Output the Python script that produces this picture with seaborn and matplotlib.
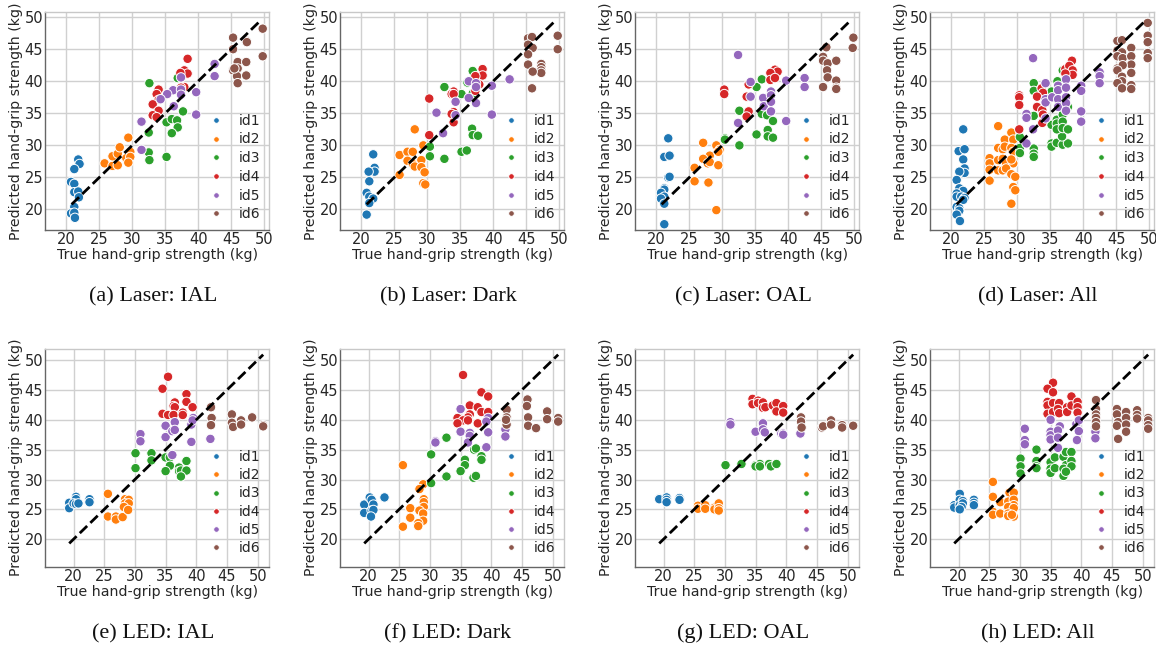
# Hand-grip strength estimation: predicted vs true, per illumination condition
# -------------------------------
import matplotlib
matplotlib.use('Agg')

import numpy as np
import pandas as pd
import matplotlib.pyplot as plt
import seaborn as sns


# 1. Data (kg), grouped by id1..id6
# -------------------------------
id_names = ["id1", "id2", "id3", "id4", "id5", "id6"]

# (a) Laser: IAL
a_counts = [12, 11, 12, 13, 13, 15]
a_true = [21.8, 22, 21.2, 20.7, 21.2, 21.2, 21.8, 21.9, 21.2, 20.7, 21.2, 21.3,
          25.8, 27, 27.8, 27, 27.8, 28.1, 29.4, 29.7, 29.1, 29.7, 29.4,
          32.6, 32.5, 32.5, 32.6, 35.2, 35.2, 36, 36.8, 36.9, 36, 37.7, 36.9,
          38.4, 37.9, 38.4, 37.3, 37.9, 37.4, 34, 33.7, 34, 33.1, 34, 33.1, 33.7,
          42.5, 42.5, 37.4, 39.7, 36.2, 35.3, 34.3, 37.4, 37.4, 36.3, 31.4, 39.7, 31.4,
          45.3, 45.3, 47.3, 47.4, 49.8, 49.8, 46, 47.3, 45.3, 46, 45.3, 45.9, 47.3, 46, 45.5]
a_pred = [27.8, 27.1, 26.3, 24.3, 24.0, 22.7, 22.8, 21.9, 20.4, 19.4, 19.5, 18.7,
          27.2, 26.8, 26.9, 28.3, 28.7, 29.7, 31.2, 29.0, 28.0, 28.2, 27.3,
          39.7, 32, 28.9, 27.7, 28.2, 33.6, 34.1, 33.9, 32.8, 31.9, 35.3, 40.5,
          43.5, 41.7, 41.2, 41.3, 39.1, 39, 38.7, 38, 37.1, 36.4, 35.4, 34.7, 34.4,
          42.7, 40.8, 40.6, 38.3, 38.6, 38, 37.2, 38.7, 37.9, 36.1, 33.7, 34.8, 29.3,
          46.8, 45, 46.3, 46.1, 48.2, 43.9, 43, 43, 41.8, 42, 41.7, 40.8, 40.9, 39.7, 42]

# (b) Laser: Dark
b_counts = [10, 14, 13, 13, 12, 14]
b_true = [21.8, 22, 22, 21.1, 21.2, 20.8, 21.2, 21.8, 21.2, 20.8,
          28.1, 29.4, 25.8, 27, 27.8, 29.1, 27, 27.8, 28.1, 29.1, 29.6, 25.8, 29.4, 29.7,
          36.9, 36.1, 32.6, 35.2, 36.9, 30.4, 30.4, 32.6, 35.2, 36, 36.8, 36.9, 37.7,
          38.4, 38.4, 37.3, 37.9, 37.3, 34, 33.7, 34, 30.3, 34, 33.7, 34, 30.3,
          42.5, 39.8, 36.3, 37.4, 37.4, 36.3, 34.3, 37.4, 31.4, 34.3, 39.8, 32.4,
          45.3, 45.9, 49.8, 49.8, 45.3, 46, 45.3, 45.3, 47.3, 47.3, 47.3, 47.3, 46, 45.9]
b_pred = [28.6, 26.5, 25.9, 25.9, 24.4, 22.6, 22.0, 21.7, 21.0, 19.2,
          32.5, 30, 28.5, 29, 29, 27.7, 27.6, 27.1, 26.7, 26.6, 25.8, 25.4, 24.1, 23.9,
          41.6, 39.8, 39.1, 38, 38.1, 29.8, 28.3, 27.9, 29, 29.2, 32.6, 31.6, 31.5,
          41.9, 40.9, 40.8, 39.5, 38.5, 38.4, 38, 38, 37.3, 35.2, 34.9, 33.6, 31.6,
          40.3, 39.3, 40, 39.7, 39.1, 37.4, 36.8, 36.6, 35.1, 34.7, 34.8, 31.9,
          46.7, 46.9, 47.1, 45, 45.7, 45.2, 44.2, 42.6, 42.7, 42.2, 41.7, 41.3, 41.5, 38.9]

# (c) Laser: OAL
c_counts = [12, 13, 13, 11, 14, 13]
c_true = [21.8, 21.2, 22, 21.8, 22, 21.2, 21.2, 20.7, 21.2, 20.7, 21.2, 21.2,
          27.1, 29.1, 28.1, 27.1, 29.6, 29.4, 27.8, 28.1, 25.8, 29.4, 25.8, 27.9, 29.1,
          32.6, 35.2, 36, 30.4, 30.4, 32.6, 35.2, 36, 36.8, 37.7, 36.9, 36.9, 37.7,
          30.3, 30.3, 34, 33.7, 34, 33.7, 38, 38.4, 37.3, 37.3, 38,
          32.4, 34.3, 34.3, 32.4, 36.2, 36.3, 37.4, 37.4, 37.4, 37.4, 39.7, 39.7, 42.5, 42.5,
          45.8, 45.3, 45.3, 46, 47.3, 45.9, 46, 47.3, 45.3, 47.3, 47.3, 49.9, 49.8]
c_pred = [31.1, 28.2, 28.4, 25, 25.1, 23.3, 23.1, 22.6, 22, 21.7, 20.9, 17.7,
          30.4, 30, 28.4, 27.9, 29.3, 29.0, 27.2, 27.4, 26.5, 26.9, 24.4, 24.2, 19.9,
          35.4, 39.1, 40.3, 31.1, 30.9, 30, 31.7, 34.9, 34.7, 33.8, 32.4, 31.4, 31.2,
          38.7, 38, 39.5, 37.6, 35.3, 34.5, 41.8, 41.5, 41.3, 40.2, 40.5,
          44.1, 39.9, 37.6, 33.5, 37.4, 36.1, 38.4, 37.8, 36.8, 35.3, 40.1, 33.8, 40.5, 39.1,
          45.3, 43.8, 43.2, 42.8, 43.2, 41.7, 40.6, 40.1, 39.1, 39, 38.8, 46.8, 45.2]

# (d) Laser: All
d_counts = [20, 26, 28, 17, 26, 24]
d_true = [21.8, 21.1, 22, 21.8, 22, 22, 21.2, 20.8, 21.2, 21.8, 20.8, 20.8, 21.5, 22, 21.8, 20.8, 21.2, 21.2, 20.8, 21.3,
          27.1, 29.1, 28.1, 29.4, 27.1, 27.8, 28.1, 29.1, 29.4, 25.8, 25.8, 27.1, 27.8, 28.3, 29.4, 29.1, 25.8, 27.1, 27.8, 28.3, 29.1, 29.7, 25.8, 29.4, 29.7, 29.1,
          32.5, 32.5, 36.1, 35.2, 36.9, 32.5, 30.4, 30.4, 30.4, 32.5, 32.5, 32.5, 35.2, 35.2, 36, 36.9, 37.7, 36.8, 35.2, 36, 36, 36, 36.9, 36.9, 36.9, 37.7, 37.7, 36.2,
          38.3, 37.3, 37.9, 38.4, 38.4, 37.3, 30.3, 30.3, 30.3, 30.3, 33.7, 33.9, 33, 33, 33.8, 33.9, 33.8,
          32.4, 31.4, 31.4, 31.4, 32.4, 34.3, 34.3, 34.3, 34.3, 35.3, 36.2, 36.2, 36.2, 36.2, 37.4, 37.4, 37.4, 37.4, 37.4, 39.7, 39.7, 39.7, 39.7, 42.5, 42.5, 42.5,
          49.8, 49.8, 49.8, 49.8, 49.8, 45.2, 45.9, 47.3, 45.2, 45.9, 45.2, 46, 47.3, 47.3, 45.2, 46, 45.2, 47.3, 45.9, 45.9, 45.2, 47.3, 45.9, 47.3]
d_pred = [32.5, 29.1, 29.4, 27.8, 26.4, 25.7, 25.9, 24.6, 23.3, 22.9, 22.5, 22, 22, 21.8, 21.5, 20.4, 20.2, 19.8, 19.2, 18.2,
          33, 32, 30.9, 30.9, 29.6, 29.4, 29.8, 29.6, 29, 28, 27.2, 27.7, 27.9, 27.2, 27.2, 27.8, 26.2, 26.1, 26.1, 26.4, 25.5, 25.1, 24.5, 23.5, 23, 20.9,
          39.7, 38.5, 40, 38.4, 41.7, 34.6, 31.3, 29.6, 28.8, 29.5, 28.7, 28.2, 30.3, 29.8, 30.4, 30.1, 30.3, 31.4, 33.2, 34, 33.4, 32.5, 34.8, 33.7, 32.7, 32.5, 36, 36,
          43.2, 41.9, 42.4, 41.7, 41, 41.2, 37.8, 37.5, 36.3, 32.5, 38.9, 38.2, 37.6, 36, 35.5, 34.8, 33.5,
          43.6, 34.9, 34.3, 30.3, 32.5, 39.7, 37.2, 36.7, 34.2, 37.5, 39.3, 38.6, 37.2, 36, 40.3, 39, 37.5, 36.6, 35.4, 39.3, 38.5, 35.3, 33.7, 41.4, 40.8, 39.7,
          49.1, 47.1, 46.1, 44.4, 43.6, 46.3, 46.4, 45.2, 44.8, 44.5, 43.9, 43.6, 43.9, 42.6, 42, 42.5, 41.7, 41.3, 40.7, 40, 39.7, 39.4, 38.9, 38.8]

# (e) LED: IAL
e_counts = [9, 11, 14, 13, 13, 11]
e_true = [19.3, 19.3, 20.4, 20.4, 20, 20.4, 20.8, 22.6, 22.6,
          25.6, 25.6, 26.9, 26.9, 28, 28.4, 29, 28.4, 29, 28.2, 28.9,
          30.1, 30.1, 32.7, 32.7, 35, 35.7, 35.7, 35, 37.2, 37.2, 37.5, 38.4, 38.4, 37.5,
          35.4, 34.5, 38.4, 38.4, 36.5, 36.3, 36.5, 39.4, 34.5, 35.4, 36.3, 37.8, 37.8,
          30.9, 30.9, 35, 35, 36.5, 36.1, 36.5, 36.1, 39.5, 39.2, 39.2, 42.3, 39.4,
          42.4, 42.5, 42.4, 45.8, 45.8, 46, 47.3, 47.3, 49.1, 50.9, 50.9]
e_pred = [26.1, 25.2, 27.1, 26.7, 26, 25.9, 26, 26.7, 26.2,
          27.6, 23.8, 23.8, 23.3, 23.7, 26.7, 26.6, 26, 26, 25.4, 24.9,
          34.4, 31.9, 34.4, 33.2, 33.7, 33.7, 32.3, 31.4, 32, 31.4, 31.5, 33.1, 31.5, 30.5,
          47.2, 45.2, 44.3, 43, 42.9, 42.3, 42.1, 42.1, 41, 40.8, 40.8, 41.2, 40.8,
          37.6, 36.4, 39, 37.1, 39.6, 38.1, 38.3, 34.1, 40.3, 39.2, 36.3, 36.8, 39.9,
          42.1, 40.3, 39.1, 40.9, 39.5, 38.8, 39.9, 39.2, 40.4, 39.1, 38.9]

# (f) LED: Dark
f_counts = [9, 14, 13, 14, 13, 13]
f_true = [19.3, 19.3, 20.2, 20.5, 20.8, 20.5, 20.8, 20.4, 22.6,
          25.6, 28.9, 28.3, 29, 29, 29, 26.8, 28.3, 28.9, 26.8, 28.9, 28.1, 28.1, 25.6,
          30.2, 30.2, 32.7, 32.7, 35.7, 35.7, 35, 37.2, 37.5, 38.4, 38.4, 37.1, 37.5,
          35.4, 38.4, 39.5, 36.5, 37.8, 38.4, 39.5, 36.5, 36.2, 34.5, 35.4, 36.2, 34.5, 37.8,
          30.9, 30.9, 35, 35, 36.5, 36.5, 36.2, 39.5, 39.2, 39.5, 39.2, 42.3, 42.3,
          45.9, 45.8, 46, 46, 47.3, 49.1, 49.1, 50.9, 50.9, 42.5, 42.5, 42.5, 42.4]
f_pred = [25.8, 24.4, 27, 26.6, 25.8, 24.8, 24.9, 23.8, 27,
          32.4, 29.2, 28.4, 26.7, 26.2, 25.4, 25.2, 24.8, 24.3, 23.6, 23.1, 22.7, 22.2, 22.1,
          34.2, 29.4, 37, 30.5, 33.3, 32.4, 31.4, 35, 35.2, 33.9, 33.3, 30.3, 30.6,
          47.5, 44.6, 43.9, 42.4, 42.1, 41.3, 41.3, 40.9, 40.4, 40.3, 39.9, 39.9, 39.4, 39.4,
          36.4, 36.2, 41.8, 38, 37.8, 37.3, 36.2, 40.3, 39.7, 37.9, 35.4, 38.4, 37.2,
          43.4, 42.3, 40.4, 39, 38.6, 41.4, 40.1, 40.3, 39.7, 41.7, 40.4, 39.2, 40]

# (g) LED: OAL
g_counts = [7, 9, 9, 12, 10, 10]
g_true = [19.3, 19.3, 20.5, 20.5, 20.5, 22.6, 22.6,
          25.6, 25.6, 26.8, 26.8, 28.3, 28.3, 29, 29, 29,
          30.1, 32.7, 35, 35.7, 35, 35.7, 37.2, 37.5, 38.4,
          34.5, 34.5, 35.4, 35.4, 36.2, 36.2, 36.6, 37.8, 38.4, 38.4, 39.5, 39.5,
          30.9, 30.9, 35, 36.2, 36.2, 36.5, 39.2, 39.5, 39.5, 42.3,
          42.4, 42.4, 42.5, 45.8, 46, 47.3, 47.3, 49.1, 49.1, 50.9]
g_pred = [26.8, 26.7, 27, 26.6, 26.2, 26.9, 26.6,
          25.6, 25.1, 25.7, 25.1, 25.3, 25, 26, 25.2, 24.8,
          32.4, 32.6, 32.4, 32.6, 32.2, 32.2, 32.6, 32.2, 32.6,
          43.5, 42.6, 43.2, 42.8, 42.9, 42, 42.1, 42.4, 42.8, 41.4, 42.3, 41.2,
          39.6, 39.2, 38, 39.4, 38.4, 37.9, 37.7, 37.7, 37.5, 37.7,
          40.4, 39.7, 38.7, 38.7, 38.9, 39.9, 39.2, 39.1, 38.7, 39]

# (h) LED: All
h_counts = [12, 17, 21, 18, 18, 22]
h_true = [19.3, 19.3, 20.2, 20.2, 20.7, 20.2, 20.7, 20.5, 20.2, 22.5, 22.5, 22.5,
          25.6, 25.6, 25.6, 25.6, 26.8, 26.8, 28.3, 29, 28.1, 29, 29, 28.1, 29, 28.1, 28.1, 29, 28.7,
          30.1, 30.1, 30.1, 32.7, 32.7, 32.7, 32.7, 35, 35, 35, 35.7, 35.7, 37.1, 37.5, 37.5, 37.1, 37.1, 38.4, 38.4, 38.4, 37.5,
          35.4, 34.5, 35.4, 34.5, 34.5, 34.5, 35.4, 35.4, 36.4, 36.2, 36.4, 37.7, 37.7, 38.4, 38.4, 39.4, 39.4, 39.4,
          30.8, 30.8, 30.8, 35, 35, 35, 35, 36.5, 36.2, 36.2, 36.2, 39.2, 39.6, 39.6, 39.3, 42.3, 42.3, 42.3,
          42.4, 42.4, 42.4, 42.4, 42.4, 42.4, 45.8, 45.8, 46, 45.8, 46, 47.3, 47.3, 47.3, 47.3, 49.1, 49.1, 49.1, 50.9, 50.9, 50.9, 50.9]
h_pred = [25.7, 25.3, 27.6, 26.6, 26.4, 25.7, 26, 25.4, 25, 26.6, 26.1, 25.7,
          29.6, 27.1, 24.6, 24.1, 26.2, 24.3, 27.8, 27.8, 26.3, 26.6, 25.7, 25.4, 25.2, 24.3, 23.9, 23.8, 24.1,
          33.5, 32.2, 31, 35, 33.1, 32.2, 31.9, 32.9, 31.8, 31.1, 33.7, 31.9, 33.8, 34.6, 32.4, 31.8, 30.6, 34.6, 33.1, 32.2, 31.3,
          46.2, 45.2, 44.6, 43, 42.4, 41, 42.8, 41.3, 42.8, 41.8, 41.1, 42.1, 41.3, 43.9, 42.4, 43, 42.1, 41.2,
          38.5, 36.6, 35.9, 40, 38, 37.4, 36.7, 38.9, 38.2, 37, 35.3, 39.3, 39.9, 38.1, 36.6, 38.7, 38, 36.9,
          43.3, 41.8, 40.9, 40.3, 39.6, 38.9, 41.8, 40.9, 39.6, 39, 36.8, 41.3, 40.3, 39.2, 38, 41.6, 40.8, 40.2, 40.3, 39.9, 39.1, 38.5]

captions = ["(a) Laser: IAL", "(b) Laser: Dark", "(c) Laser: OAL", "(d) Laser: All",
            "(e) LED: IAL", "(f) LED: Dark", "(g) LED: OAL", "(h) LED: All"]
ticks = [20, 25, 30, 35, 40, 45, 50]


# 2. Build one table per panel
# -------------------------------
def make_panel(counts, true_vals, pred_vals):
    return pd.DataFrame({
        "true": true_vals,
        "pred": pred_vals,
        "id": np.repeat(id_names, counts),
    })


panels = [
    make_panel(a_counts, a_true, a_pred),
    make_panel(b_counts, b_true, b_pred),
    make_panel(c_counts, c_true, c_pred),
    make_panel(d_counts, d_true, d_pred),
    make_panel(e_counts, e_true, e_pred),
    make_panel(f_counts, f_true, f_pred),
    make_panel(g_counts, g_true, g_pred),
    make_panel(h_counts, h_true, h_pred),
]


# 3. Layout (pixels of the 1156x650 canvas)
# -------------------------------
sns.set_theme(style="whitegrid")
plt.rcParams['font.family'] = ['DejaVu Sans']

W, H = 1156, 650
fig = plt.figure(figsize=(W / 100, H / 100), dpi=100)

lefts = [45.3, 340.3, 635.3, 930.3]
tops = [12, 348.7]
ax_w, ax_h = 224, 218
caption_x = [152.7, 448, 743, 1037.7]
caption_y = [297, 633.5]

for i, df in enumerate(panels):
    row, col = i // 4, i % 4
    ax = fig.add_axes([lefts[col] / W, 1 - (tops[row] + ax_h) / H, ax_w / W, ax_h / H])

    sns.scatterplot(data=df, x="true", y="pred", hue="id", hue_order=id_names,
                    palette="tab10", s=46, edgecolor="white", linewidth=0.7, ax=ax)

    # identity line spans the observed true values
    low, high = (20.8, 49.6) if row == 0 else (19.3, 50.9)
    ax.plot([low, high], [low, high], color="black", linestyle="--", linewidth=2)

    if row == 0:
        ax.set_xlim(16.8, 50.8)
        ax.set_ylim(16.8, 50.8)
    else:
        ax.set_xlim(15.4, 51.9)
        ax.set_ylim(15.4, 51.9)
    ax.set_xticks(ticks)
    ax.set_yticks(ticks)
    ax.tick_params(labelsize=10.5, pad=1.5, colors="#262626", length=0)
    ax.grid(True, color="#d0d0d0", linewidth=1)
    ax.set_axisbelow(True)

    ax.set_xlabel("True hand-grip strength (kg)", fontsize=10.2, labelpad=1, color="#262626")
    ax.set_ylabel("Predicted hand-grip strength (kg)", fontsize=10.2, labelpad=1, color="#262626")

    for side in ["top", "right"]:
        ax.spines[side].set_color("#c8c8c8")
        ax.spines[side].set_linewidth(1)
    for side in ["left", "bottom"]:
        ax.spines[side].set_color("#666666")
        ax.spines[side].set_linewidth(1)

    leg = ax.legend(loc="lower right", bbox_to_anchor=(1.0, 0.0 if row == 0 else 0.012),
                    frameon=False, fontsize=10, markerscale=0.6,
                    labelspacing=0.34 if row == 0 else 0.31, handletextpad=0.65,
                    borderaxespad=0.25, borderpad=0.38)
    for txt in leg.get_texts():
        txt.set_color("#262626")

    fig.text(caption_x[col] / W, 1 - caption_y[row] / H, captions[i],
             ha="center", va="center", fontsize=16, family="Liberation Serif", color="#111111")


# 4. Save
# -------------------------------
fig.savefig("out.png", dpi=100)
